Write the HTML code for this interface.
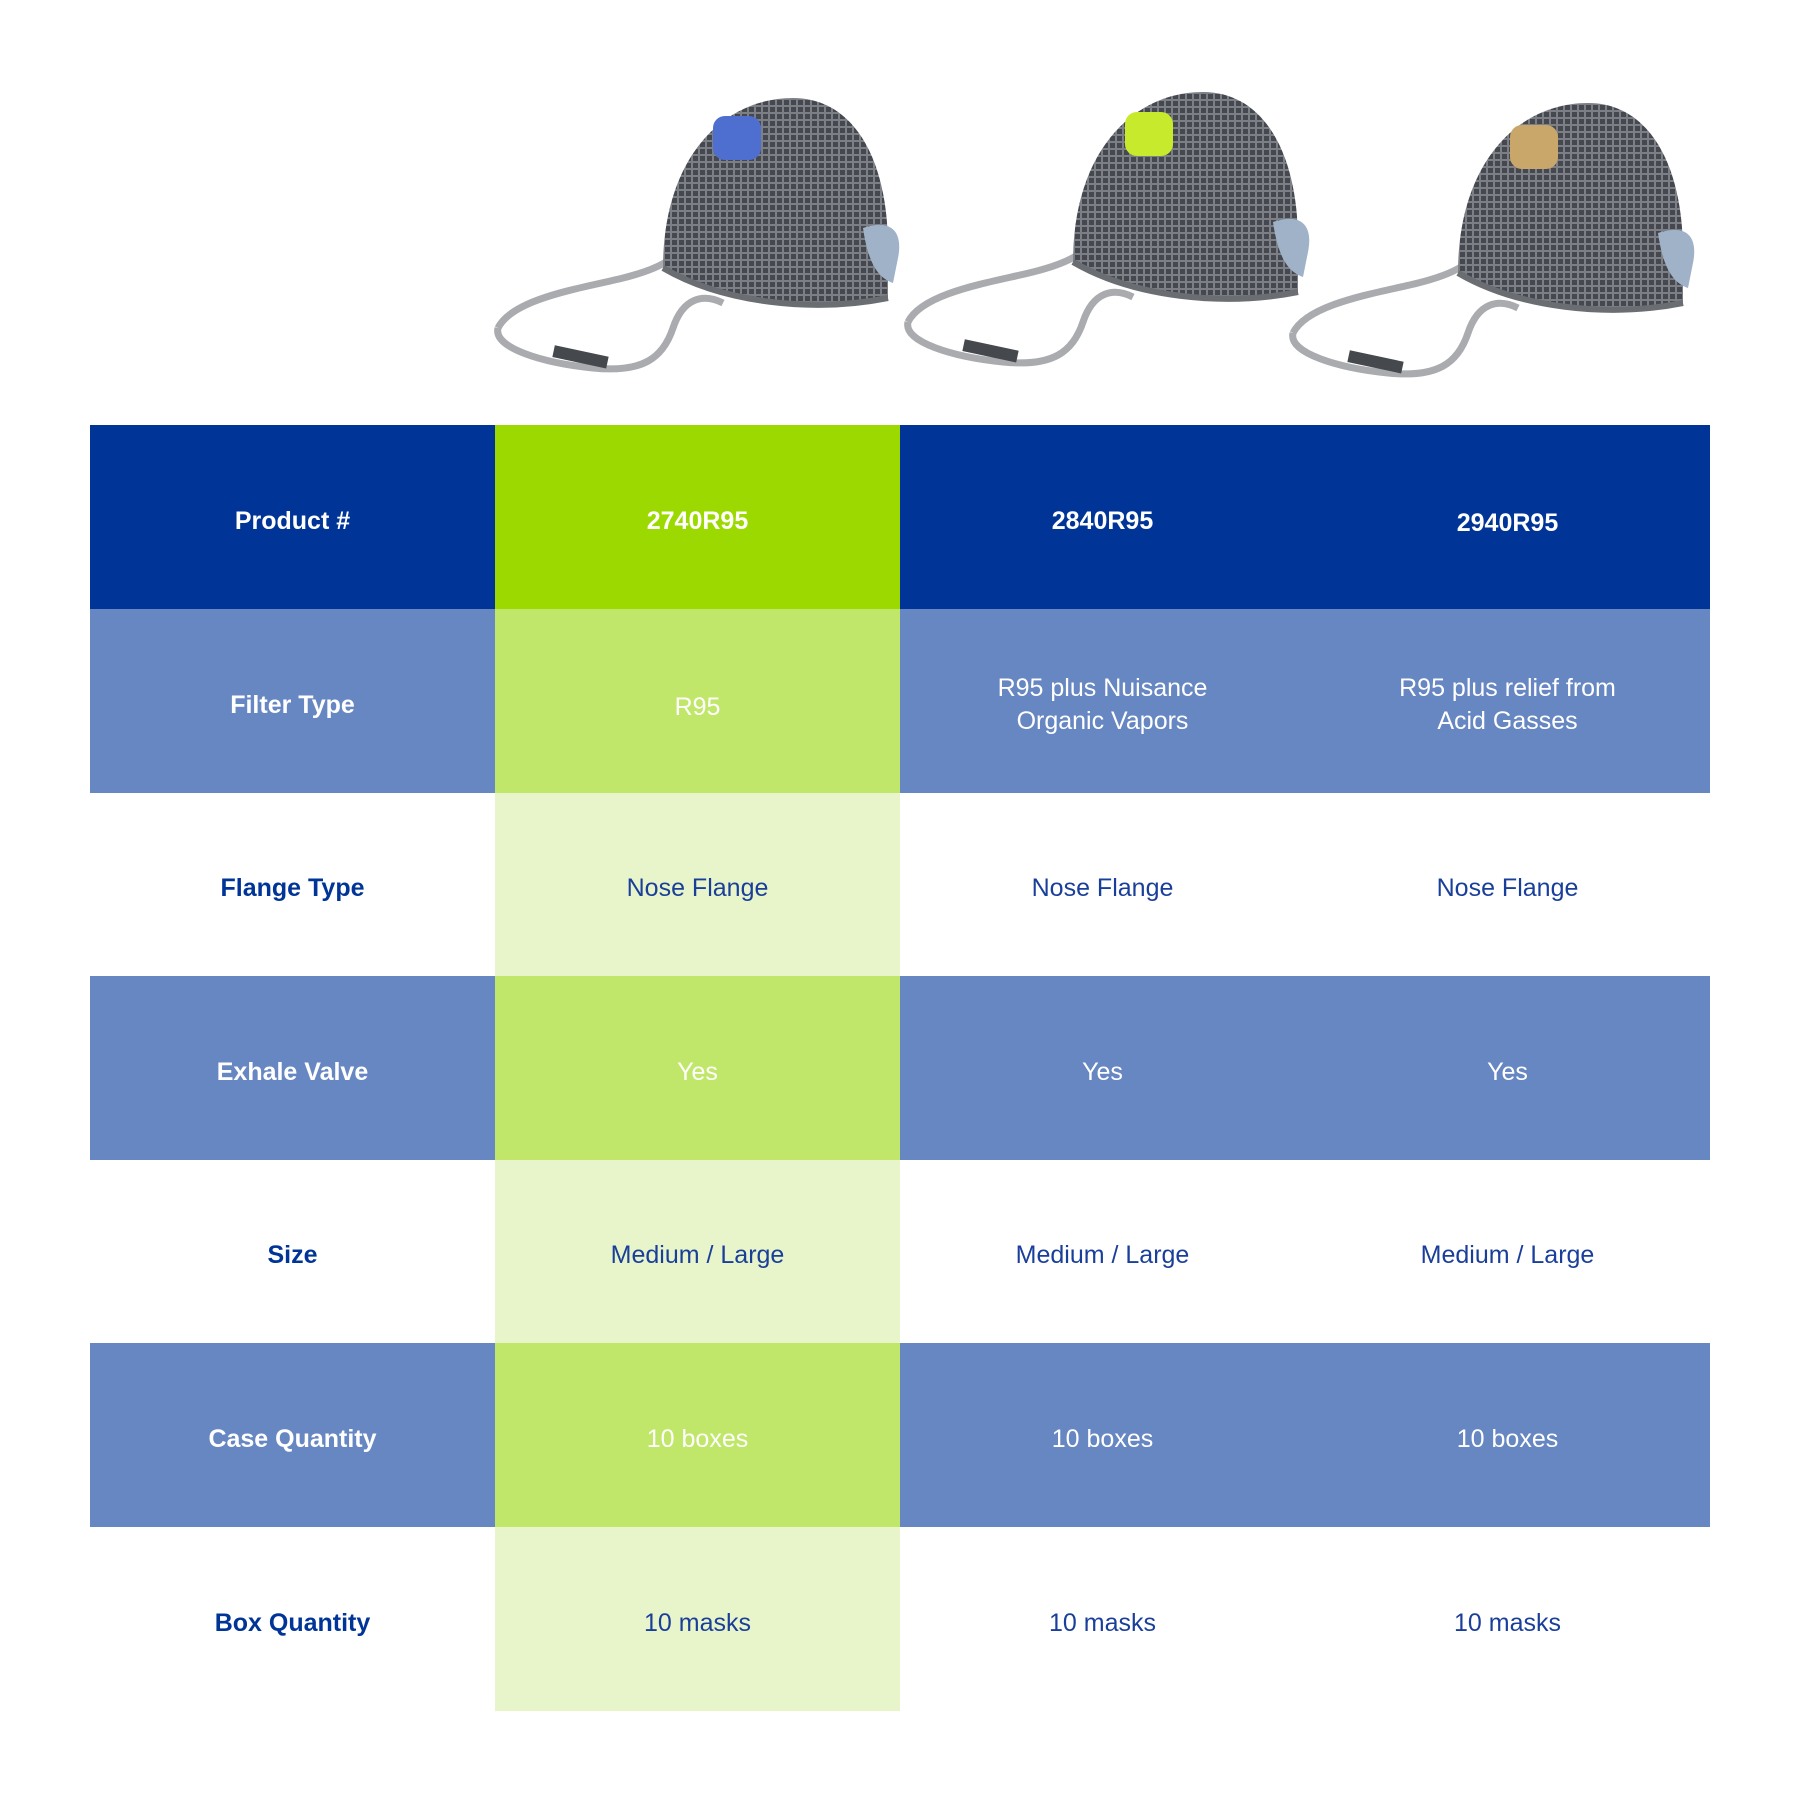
<!DOCTYPE html>
<html><head><meta charset="utf-8"><style>
body{margin:0;width:1800px;height:1800px;background:#fff;position:relative;overflow:hidden;font-family:"Liberation Sans",sans-serif}
.c{position:absolute;display:flex;align-items:center;justify-content:center;text-align:center;font-size:25px;line-height:33px;color:#fff;padding-top:8px;box-sizing:border-box}
.b{font-weight:bold}
</style></head><body>
<svg width="1800" height="420" style="position:absolute;left:0;top:0">
<defs>
<pattern id="mesh" width="7" height="7" patternUnits="userSpaceOnUse"><rect width="7" height="7" fill="#7c7f85"/><rect x="2" y="2" width="5" height="5" fill="#45484e"/></pattern>
<g id="mask">
<path d="M-165,230 C-150,200 -80,190 -40,180 C0,170 10,160 20,150" stroke="#a9abaf" stroke-width="7" fill="none"/>
<path d="M-165,230 C-170,250 -120,265 -70,270 C-20,275 0,260 10,230 C20,200 40,195 60,205" stroke="#a9abaf" stroke-width="7" fill="none"/>
<rect x="-110" y="253" width="55" height="12" fill="#45484d" transform="rotate(12 -82 259)"/>
<path d="M0,170 C0,60 60,0 130,0 C190,0 225,60 225,150 L225,200 C150,215 60,205 0,170Z" fill="url(#mesh)"/>
<path d="M0,170 C60,205 150,215 225,200" stroke="#6a6d72" stroke-width="6" fill="none"/>
<path d="M200,130 C230,120 240,135 235,160 L230,185 C215,180 205,165 200,130Z" fill="#9fb2c8"/>
</g>
</defs>
<g transform="translate(663,98)"><use href="#mask"/><rect x="50" y="18" width="48" height="44" rx="12" fill="#4f6fd0"/></g>
<g transform="translate(1073,92)"><use href="#mask"/><rect x="52" y="20" width="48" height="44" rx="12" fill="#c7ea2c"/></g>
<g transform="translate(1458,103)"><use href="#mask"/><rect x="52" y="22" width="48" height="44" rx="12" fill="#c9a66a"/></g>
</svg>
<div style="position:absolute;left:90px;top:425px;width:1620px;height:184px;background:#003597"></div>
<div style="position:absolute;left:90px;top:609px;width:1620px;height:184px;background:#6787c2"></div>
<div style="position:absolute;left:90px;top:976px;width:1620px;height:184px;background:#6787c2"></div>
<div style="position:absolute;left:90px;top:1343px;width:1620px;height:184px;background:#6787c2"></div>
<div style="position:absolute;left:495px;top:425px;width:405px;height:184px;background:#9bd900"></div>
<div style="position:absolute;left:495px;top:609px;width:405px;height:184px;background:#c1e76a"></div>
<div style="position:absolute;left:495px;top:793px;width:405px;height:183px;background:#e8f5ca"></div>
<div style="position:absolute;left:495px;top:976px;width:405px;height:184px;background:#c1e76a"></div>
<div style="position:absolute;left:495px;top:1160px;width:405px;height:183px;background:#e8f5ca"></div>
<div style="position:absolute;left:495px;top:1343px;width:405px;height:184px;background:#c1e76a"></div>
<div style="position:absolute;left:495px;top:1527px;width:405px;height:184px;background:#e8f5ca"></div>

<div class="c b" style="left:90px;top:425px;width:405px;height:184px">Product #</div>
<div class="c b" style="left:495px;top:425px;width:405px;height:184px">2740R95</div>
<div class="c b" style="left:900px;top:425px;width:405px;height:184px">2840R95</div>
<div class="c b" style="left:1305px;top:427px;width:405px;height:184px">2940R95</div>

<div class="c b" style="left:90px;top:609px;width:405px;height:184px">Filter Type</div>
<div class="c" style="left:495px;top:611px;width:405px;height:184px">R95</div>
<div class="c" style="left:900px;top:609px;width:405px;height:184px">R95 plus Nuisance<br>Organic Vapors</div>
<div class="c" style="left:1305px;top:609px;width:405px;height:184px">R95 plus relief from<br>Acid Gasses</div>

<div class="c b" style="left:90px;top:793px;width:405px;height:183px;color:#003597">Flange Type</div>
<div class="c" style="left:495px;top:793px;width:405px;height:183px;color:#1a3f9a">Nose Flange</div>
<div class="c" style="left:900px;top:793px;width:405px;height:183px;color:#1a3f9a">Nose Flange</div>
<div class="c" style="left:1305px;top:793px;width:405px;height:183px;color:#1a3f9a">Nose Flange</div>

<div class="c b" style="left:90px;top:976px;width:405px;height:184px">Exhale Valve</div>
<div class="c" style="left:495px;top:976px;width:405px;height:184px">Yes</div>
<div class="c" style="left:900px;top:976px;width:405px;height:184px">Yes</div>
<div class="c" style="left:1305px;top:976px;width:405px;height:184px">Yes</div>

<div class="c b" style="left:90px;top:1160px;width:405px;height:183px;color:#003597">Size</div>
<div class="c" style="left:495px;top:1160px;width:405px;height:183px;color:#1a3f9a">Medium / Large</div>
<div class="c" style="left:900px;top:1160px;width:405px;height:183px;color:#1a3f9a">Medium / Large</div>
<div class="c" style="left:1305px;top:1160px;width:405px;height:183px;color:#1a3f9a">Medium / Large</div>

<div class="c b" style="left:90px;top:1343px;width:405px;height:184px">Case Quantity</div>
<div class="c" style="left:495px;top:1343px;width:405px;height:184px">10 boxes</div>
<div class="c" style="left:900px;top:1343px;width:405px;height:184px">10 boxes</div>
<div class="c" style="left:1305px;top:1343px;width:405px;height:184px">10 boxes</div>

<div class="c b" style="left:90px;top:1527px;width:405px;height:184px;color:#003597">Box Quantity</div>
<div class="c" style="left:495px;top:1527px;width:405px;height:184px;color:#1a3f9a">10 masks</div>
<div class="c" style="left:900px;top:1527px;width:405px;height:184px;color:#1a3f9a">10 masks</div>
<div class="c" style="left:1305px;top:1527px;width:405px;height:184px;color:#1a3f9a">10 masks</div>
</body></html>
